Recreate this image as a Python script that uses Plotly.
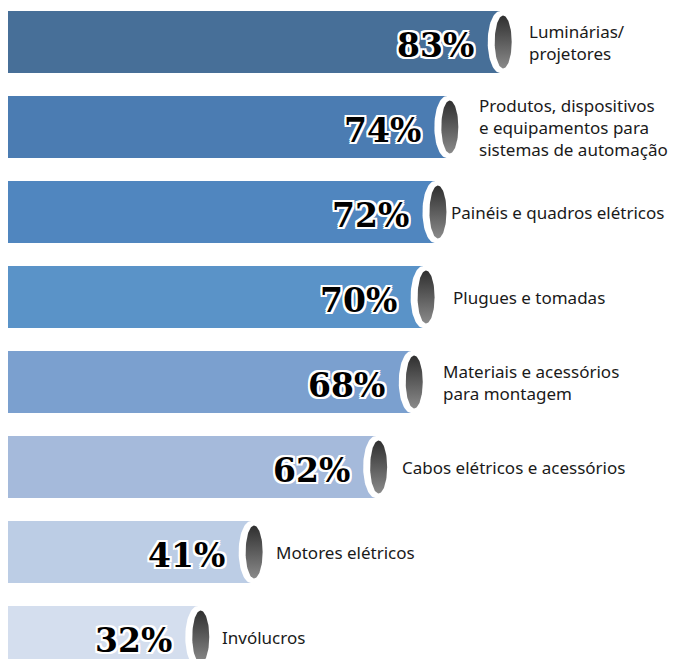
import numpy as np
import plotly.graph_objects as go

categories = [
    "Luminárias/<br>projetores",
    "Produtos, dispositivos<br>e equipamentos para<br>sistemas de automação",
    "Painéis e quadros elétricos",
    "Plugues e tomadas",
    "Materiais e acessórios<br>para montagem",
    "Cabos elétricos e acessórios",
    "Motores elétricos",
    "Invólucros",
]
values = [83, 74, 72, 70, 68, 62, 41, 32]
bar_colors = ["#476f98", "#4b7cb2", "#5086bf", "#5a93c8",
              "#7ba0cf", "#a5badb", "#bccde5", "#d4deee"]

# layout constants (pixels, relative to the figure)
W, H = 680, 659
PX_PER_UNIT = 5.93      # px per percent
ROW_PX = 85             # vertical spacing between bars
BAR_PX = 62
LAST_CENTER_PX = 629

x_range = [0, W / PX_PER_UNIT]
y_range = [-(H - LAST_CENTER_PX) / ROW_PX, LAST_CENTER_PX / ROW_PX]
ypos = list(range(len(values) - 1, -1, -1))

label_shift = [27, 30, 14, 28, 30, 24, 23, 22]

fig = go.Figure()
fig.add_trace(go.Bar(
    x=values, y=ypos, orientation="h", base=0,
    width=BAR_PX / ROW_PX,
    marker=dict(color=bar_colors, line=dict(width=0)),
    hoverinfo="skip", showlegend=False,
))

t = np.linspace(0, 2 * np.pi, 80)


def ellipse(cx, cy, w_px, h_px):
    rx = w_px / 2 / PX_PER_UNIT
    ry = h_px / 2 / ROW_PX
    return cx + rx * np.cos(t), cy + ry * np.sin(t)


# white rim of the cylinder end
for v, y in zip(values, ypos):
    ex, ey = ellipse(v, y, 25, BAR_PX)
    fig.add_trace(go.Scatter(
        x=ex, y=ey, mode="lines", fill="toself", fillcolor="white",
        line=dict(width=0, color="white"), hoverinfo="skip", showlegend=False,
    ))

# dark gradient cap
for v, y in zip(values, ypos):
    ex, ey = ellipse(v + 3 / PX_PER_UNIT, y, 17, 53)
    fig.add_trace(go.Scatter(
        x=ex, y=ey, mode="lines", fill="toself",
        fillgradient=dict(type="vertical",
                          colorscale=[[0, "#8a8a8a"], [1, "#2f2f2f"]]),
        line=dict(width=0), hoverinfo="skip", showlegend=False,
    ))

outline = ", ".join(f"{a}px {b}px 0 #fff" for a, b in
                    [(2, 0), (-2, 0), (0, 2), (0, -2),
                     (2, 2), (-2, -2), (2, -2), (-2, 2)])

for v, y, lab, sh in zip(values, ypos, categories, label_shift):
    fig.add_annotation(
        x=v, y=y, text=f"<b>{v}%</b>", showarrow=False,
        xanchor="right", yanchor="middle", xshift=-24, yshift=-3,
        font=dict(family="DejaVu Serif", size=33, color="black", shadow=outline),
    )
    fig.add_annotation(
        x=v, y=y, text=lab, showarrow=False, align="left",
        xanchor="left", yanchor="middle", xshift=sh,
        font=dict(family="Noto Sans", size=17, color="#1a1a1a"),
    )

fig.update_xaxes(range=x_range, visible=False, fixedrange=True)
fig.update_yaxes(range=y_range, visible=False, fixedrange=True)
fig.update_layout(
    width=W, height=H,
    margin=dict(l=0, r=0, t=0, b=0),
    plot_bgcolor="white", paper_bgcolor="white",
    bargap=0,
)

fig.write_html("out.html")
